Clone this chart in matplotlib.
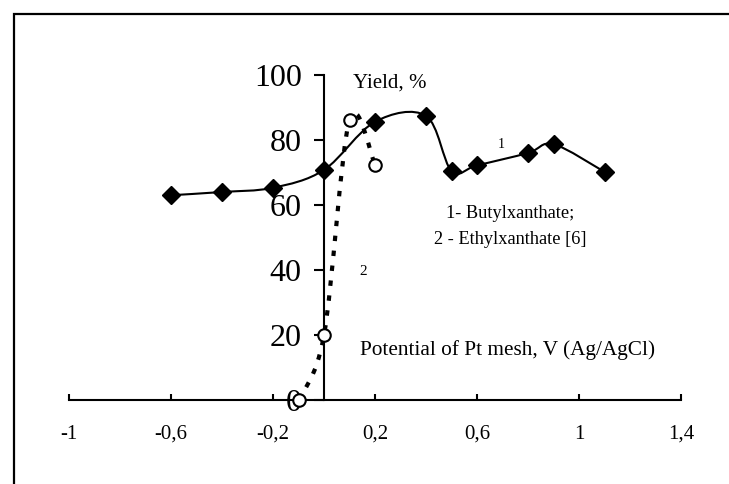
import matplotlib
matplotlib.use("Agg")
import matplotlib.pyplot as plt
import numpy as np
from matplotlib.path import Path
from matplotlib.patches import PathPatch, Rectangle

# --- data
butyl_x = [-0.6, -0.4, -0.2, 0.0, 0.2, 0.4, 0.5, 0.6, 0.8, 0.9, 1.1]
butyl_y = [63.0, 64.0, 65.3, 70.8, 85.6, 87.4, 70.5, 72.2, 76.0, 78.7, 70.2]

ethyl_x = [-0.1, 0.0, 0.1, 0.2]
ethyl_y = [0.0, 20.0, 86.2, 72.4]

x_ticks = [-1.0, -0.6, -0.2, 0.2, 0.6, 1.0, 1.4]
x_ticklabels = ["-1", "-0,6", "-0,2", "0,2", "0,6", "1", "1,4"]
y_ticks = [0, 20, 40, 60, 80, 100]

plt.rcParams["font.family"] = ["Liberation Serif", "DejaVu Serif"]


def smooth_path(xs, ys):
    """Excel-like smoothed line: cubic Bezier through every point."""
    p = np.column_stack([xs, ys]).astype(float)
    n = len(p)
    verts = [p[0]]
    codes = [Path.MOVETO]
    for i in range(n - 1):
        p0 = p[i - 1] if i > 0 else p[i]
        p3 = p[i + 2] if i + 2 < n else p[i + 1]
        c1 = p[i] + (p[i + 1] - p0) / 6.0
        c2 = p[i + 1] - (p3 - p[i]) / 6.0
        verts += [c1, c2, p[i + 1]]
        codes += [Path.CURVE4] * 3
    return Path(verts, codes)


W, H = 729, 484
fig = plt.figure(figsize=(W / 100, H / 100), dpi=100)
ax = fig.add_axes([69 / W, (H - 400) / H, (681 - 69) / W, (400 - 75) / H])
ax.set_xlim(-1.0, 1.4)
ax.set_ylim(0, 100)

# curves
ax.add_patch(PathPatch(smooth_path(butyl_x, butyl_y), fill=False,
                       edgecolor="black", linewidth=1.5, clip_on=False, zorder=3))
ax.add_patch(PathPatch(smooth_path(ethyl_x, ethyl_y), fill=False,
                       edgecolor="black", linewidth=3.0, linestyle=(0, (1.3, 2.3)),
                       capstyle="butt", clip_on=False, zorder=3))

ax.plot(butyl_x, butyl_y, linestyle="none", marker="D", markersize=9.5,
        color="black", clip_on=False, zorder=4)
ax.plot(ethyl_x, ethyl_y, linestyle="none", marker="o", markersize=9,
        markerfacecolor="white", markeredgecolor="black", markeredgewidth=1.5,
        clip_on=False, zorder=5)

# axes crossing at the origin
for side in ("top", "right"):
    ax.spines[side].set_visible(False)
ax.spines["left"].set_position(("data", 0))
ax.spines["bottom"].set_position(("data", 0))
ax.spines["left"].set_linewidth(1.5)
ax.spines["bottom"].set_linewidth(1.5)

ax.set_xticks(x_ticks)
ax.set_xticklabels(x_ticklabels, fontsize=15)
ax.set_yticks(y_ticks)
ax.set_yticklabels([str(v) for v in y_ticks], fontsize=23)
ax.tick_params(axis="x", direction="in", length=4, width=1.5, pad=18)
ax.tick_params(axis="y", direction="out", length=7, width=1.5, pad=9)

ax.text(0.115, 97.5, "Yield, %", fontsize=15, ha="left", va="center")
ax.text(0.14, 15.5, "Potential of Pt mesh, V (Ag/AgCl)", fontsize=15.3,
        ha="left", va="center")
ax.text(0.73, 57.5, "1- Butylxanthate;", fontsize=13.2, ha="center", va="center")
ax.text(0.73, 49.5, "2 - Ethylxanthate [6]", fontsize=13.2, ha="center", va="center")
ax.text(0.695, 78.5, "1", fontsize=10, ha="center", va="center")
ax.text(0.155, 39.5, "2", fontsize=11, ha="center", va="center")

# outer frame (only left and top edges are inside the picture)
fig.add_artist(Rectangle((13.5 / W, -0.5), 2.0, 0.5 + (H - 13.5) / H,
                         transform=fig.transFigure, fill=False,
                         edgecolor="black", linewidth=1.6))

fig.savefig("out.png", dpi=100)
